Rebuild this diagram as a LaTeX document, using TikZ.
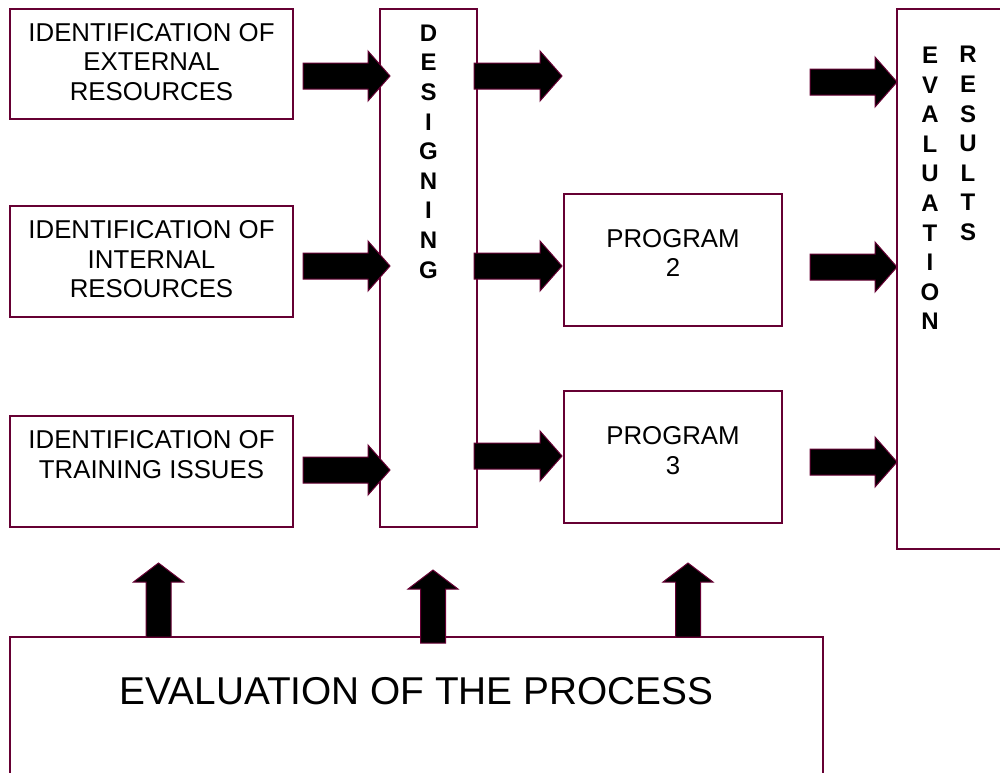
\documentclass[tikz,border=0pt]{standalone}
\usepackage{fontspec}
\setmainfont{Liberation Sans}
\usetikzlibrary{calc}
\definecolor{maroon}{RGB}{102,0,51}
\tikzset{
  box/.style={draw=maroon, line width=1.5pt, fill=white, inner sep=0pt},
  lbl/.style={align=center, inner sep=0pt, font=\fontsize{25.8}{29.5}\selectfont},
  vtext/.style={align=center, inner sep=0pt, font=\fontsize{24}{29.6}\selectfont\bfseries},
  bigtext/.style={inner sep=0pt, font=\fontsize{38.8}{44}\selectfont},
  blockarrow/.style={fill=black, draw=maroon, line width=1pt, line join=miter},
}
\newcommand\rblockarrow[2]{\draw[blockarrow] ($(#1)+(0,-13)$) -- ($(#2)+(-22,-13)$) -- ($(#2)+(-22,-25)$) -- (#2) -- ($(#2)+(-22,25)$) -- ($(#2)+(-22,13)$) -- ($(#1)+(0,13)$) -- cycle;}
\newcommand\ublockarrow[2]{\draw[blockarrow] ($(#1)+(-12.5,0)$) -- ($(#2)+(-12.5,19)$) -- ($(#2)+(-25,19)$) -- (#2) -- ($(#2)+(25,19)$) -- ($(#2)+(12.5,19)$) -- ($(#1)+(12.5,0)$) -- cycle;}
\begin{document}
\begin{tikzpicture}[x=1pt,y=-1pt]
\useasboundingbox (0,0) rectangle (1000,772);
% boxes
\node[box, minimum width=283pt, minimum height=110pt] (ext) at (151.5,64) {};
\node[box, minimum width=283pt, minimum height=111pt] (int) at (151.5,261.5) {};
\node[box, minimum width=283pt, minimum height=111pt] (tra) at (151.5,471.5) {};
\node[box, minimum width=97pt, minimum height=518pt] (des) at (428.5,268) {};
\node[box, minimum width=218pt, minimum height=132pt] (p2) at (673,260) {};
\node[box, minimum width=218pt, minimum height=132pt] (p3) at (673,457) {};
\node[box, minimum width=113pt, minimum height=540pt] (res) at (953.5,279) {};
\node[box, minimum width=813pt, minimum height=150pt] (proc) at (416.5,712) {};
% texts
\node[lbl] (extt) at ($(ext.center)+(0,-2)$) {IDENTIFICATION OF\\EXTERNAL\\RESOURCES};
\node[lbl] (intt) at ($(int.center)+(0,-2)$) {IDENTIFICATION OF\\INTERNAL\\RESOURCES};
\node[lbl] (trat) at ($(tra.center)+(0,-17)$) {IDENTIFICATION OF\\TRAINING ISSUES};
\node[lbl] (p2t) at ($(p2.center)+(0,-7)$) {PROGRAM\\2};
\node[lbl] (p3t) at ($(p3.center)+(0,-6.5)$) {PROGRAM\\3};
\node[vtext] (dest) at (428.5,151.5) {D\\E\\S\\I\\G\\N\\I\\N\\G};
\node[vtext] (evt) at (930,188.5) {E\\V\\A\\L\\U\\A\\T\\I\\O\\N};
\node[vtext] (rest) at (968,143.5) {R\\E\\S\\U\\L\\T\\S};
\node[bigtext] (proct) at (416.5,691) {EVALUATION OF THE PROCESS};
% arrow end points
\coordinate (a1s) at (303,76);  \coordinate (a1t) at (390,76);
\coordinate (a2s) at (303,266); \coordinate (a2t) at (390,266);
\coordinate (a3s) at (303,470); \coordinate (a3t) at (390,470);
\coordinate (b1s) at (474,76);  \coordinate (b1t) at (562,76);
\coordinate (b2s) at (474,266); \coordinate (b2t) at (562,266);
\coordinate (b3s) at (474,456); \coordinate (b3t) at (562,456);
\coordinate (c1s) at (810,82);  \coordinate (c1t) at (897,82);
\coordinate (c2s) at (810,267); \coordinate (c2t) at (897,267);
\coordinate (c3s) at (810,462); \coordinate (c3t) at (897,462);
\coordinate (u1s) at (158.5,637); \coordinate (u1t) at (158.5,563);
\coordinate (u2s) at (433,643);   \coordinate (u2t) at (433,570);
\coordinate (u3s) at (688,637);   \coordinate (u3t) at (688,563);
% arrows
\rblockarrow{a1s}{a1t}
\rblockarrow{a2s}{a2t}
\rblockarrow{a3s}{a3t}
\rblockarrow{b1s}{b1t}
\rblockarrow{b2s}{b2t}
\rblockarrow{b3s}{b3t}
\rblockarrow{c1s}{c1t}
\rblockarrow{c2s}{c2t}
\rblockarrow{c3s}{c3t}
\ublockarrow{u1s}{u1t}
\ublockarrow{u2s}{u2t}
\ublockarrow{u3s}{u3t}
\end{tikzpicture}
\end{document}
